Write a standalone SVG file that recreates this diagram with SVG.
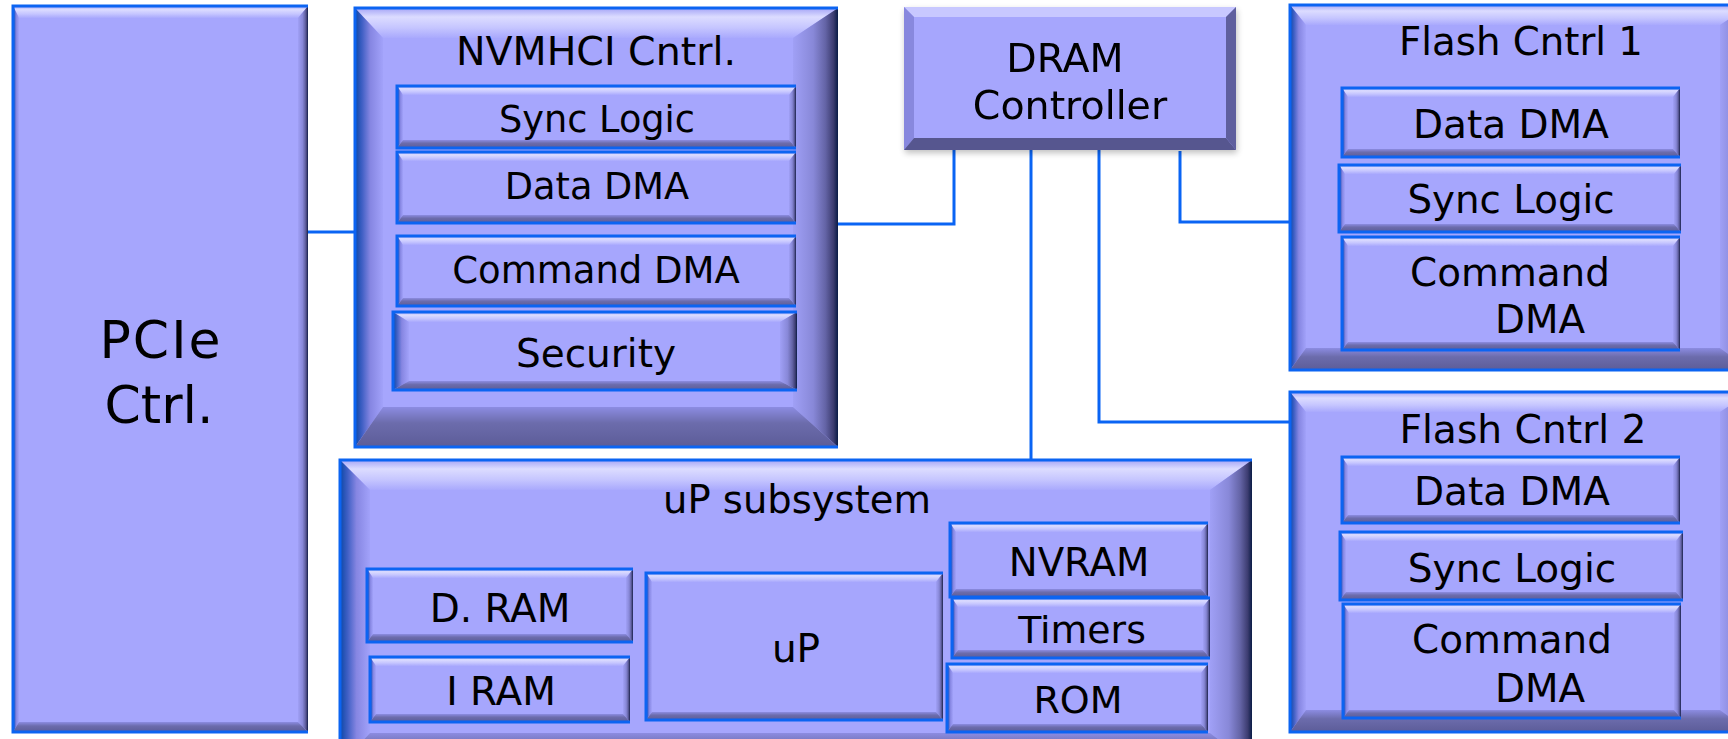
<svg xmlns="http://www.w3.org/2000/svg" width="1728" height="739" viewBox="0 0 1728 739">
<defs>
<linearGradient id="gT" x1="0" y1="0" x2="0" y2="1"><stop offset="0" stop-color="#A4A4F6"/><stop offset="0.3" stop-color="#DCDCFF"/><stop offset="0.65" stop-color="#C6C6FF"/><stop offset="1" stop-color="#A9A9FD"/></linearGradient>
<linearGradient id="gL" x1="0" y1="0" x2="1" y2="0"><stop offset="0" stop-color="#0B47A6"/><stop offset="0.25" stop-color="#3F5FC4"/><stop offset="0.55" stop-color="#8686E2"/><stop offset="1" stop-color="#A2A2FA"/></linearGradient>
<linearGradient id="gR" x1="0" y1="0" x2="1" y2="0"><stop offset="0" stop-color="#A0A0F6"/><stop offset="0.45" stop-color="#8888D8"/><stop offset="0.72" stop-color="#6464A6"/><stop offset="0.9" stop-color="#3C3C70"/><stop offset="1" stop-color="#0A1C46"/></linearGradient>
<linearGradient id="gB" x1="0" y1="0" x2="0" y2="1"><stop offset="0" stop-color="#8C8CE2"/><stop offset="0.4" stop-color="#6C6CAC"/><stop offset="1" stop-color="#5C5C98"/></linearGradient>
<filter id="sh" x="-5%" y="-5%" width="110%" height="115%"><feGaussianBlur in="SourceAlpha" stdDeviation="3"/><feOffset dx="1" dy="3"/><feComponentTransfer><feFuncA type="linear" slope="0.25"/></feComponentTransfer><feMerge><feMergeNode/><feMergeNode in="SourceGraphic"/></feMerge></filter>
</defs>
<style>
.face{fill:#A6A6FD}
.bt{fill:url(#gT)}
.bl{fill:url(#gL)}
.br{fill:url(#gR)}
.bb{fill:url(#gB)}
.edge{fill:none;stroke:#0C64F2;stroke-width:3}
.dt{fill:#C8C8FF}
.dl{fill:#8888DE}
.dr{fill:#5E5E9E}
.db{fill:#56568F}
text{font-family:'DejaVu Sans',Verdana,sans-serif;fill:#000;text-anchor:middle}
.conn{fill:none;stroke:#0A64F4;stroke-width:3}
</style>
<rect width="1728" height="739" fill="#FFFFFF"/>

<g id="connectors">
<line class="conn" x1="308" y1="232" x2="356" y2="232"/>
<polyline class="conn" points="838,224 954,224 954,150"/>
<line class="conn" x1="1031" y1="150" x2="1031" y2="462"/>
<polyline class="conn" points="1099,150 1099,422 1290,422"/>
<polyline class="conn" points="1180,151 1180,222 1290,222"/>
</g>

<g id="pcie">
<rect class="face" x="13" y="6" width="295" height="726"/>
<polygon class="bt" points="13,6 308,6 298,18 19,18"/>
<polygon class="bl" points="13,6 19,18 19,722 13,732"/>
<polygon class="br" points="308,6 308,732 298,722 298,18"/>
<polygon class="bb" points="13,732 19,722 298,722 308,732"/>
<path class="edge" d="M308,6 H13 V732 H308" stroke-width="2"/>
<text x="161" y="358" font-size="52" letter-spacing="2">PCIe</text>
<text x="159" y="423" font-size="52">Ctrl.</text>
</g>

<g id="nvmhci">
<rect class="face" x="355" y="8" width="483" height="439"/>
<polygon class="bt" points="355,8 838,8 793,38 383,38"/>
<polygon class="bl" points="355,8 383,38 383,407 355,447"/>
<polygon class="br" points="838,8 838,447 793,407 793,38"/>
<polygon class="bb" points="355,447 383,407 793,407 838,447"/>
<path class="edge" d="M838,8 H355 V447 H838"/>
<text x="596" y="65" font-size="39.5">NVMHCI Cntrl.</text>
</g>
<g id="nv-sync">
<rect class="face" x="397" y="86" width="399" height="62"/>
<polygon class="bt" points="397,86 796,86 789,95 403,95"/>
<polygon class="bl" points="397,86 403,95 403,140 397,148"/>
<polygon class="br" points="796,86 796,148 789,140 789,95"/>
<polygon class="bb" points="397,148 403,140 789,140 796,148"/>
<path class="edge" d="M796,86 H397 V148 H796" stroke-width="2.5"/>
<text x="597" y="132" font-size="36.7">Sync Logic</text>
</g>
<g id="nv-data">
<rect class="face" x="397" y="152" width="399" height="71"/>
<polygon class="bt" points="397,152 796,152 789,161 403,161"/>
<polygon class="bl" points="397,152 403,161 403,215 397,223"/>
<polygon class="br" points="796,152 796,223 789,215 789,161"/>
<polygon class="bb" points="397,223 403,215 789,215 796,223"/>
<path class="edge" d="M796,152 H397 V223 H796" stroke-width="2.5"/>
<text x="597" y="199" font-size="36.7">Data DMA</text>
</g>
<g id="nv-cmd">
<rect class="face" x="397" y="236" width="399" height="70"/>
<polygon class="bt" points="397,236 796,236 789,245 403,245"/>
<polygon class="bl" points="397,236 403,245 403,298 397,306"/>
<polygon class="br" points="796,236 796,306 789,298 789,245"/>
<polygon class="bb" points="397,306 403,298 789,298 796,306"/>
<path class="edge" d="M796,236 H397 V306 H796" stroke-width="2.5"/>
<text x="596" y="283" font-size="37">Command DMA</text>
</g>
<g id="nv-sec">
<rect class="face" x="393" y="312" width="404" height="78"/>
<polygon class="bt" points="393,312 797,312 780,322 409,322"/>
<polygon class="bl" points="393,312 409,322 409,381 393,390"/>
<polygon class="br" points="797,312 797,390 780,381 780,322"/>
<polygon class="bb" points="393,390 409,381 780,381 797,390"/>
<path class="edge" d="M797,312 H393 V390 H797" stroke-width="2.5"/>
<text x="596" y="367" font-size="39">Security</text>
</g>

<g id="dram" filter="url(#sh)">
<rect class="face" x="904" y="7" width="332" height="143"/>
<polygon class="dt" points="904,7 1236,7 1226,17 914,17"/>
<polygon class="dl" points="904,7 914,17 914,138 904,150"/>
<polygon class="dr" points="1236,7 1236,150 1226,138 1226,17"/>
<polygon class="db" points="904,150 914,138 1226,138 1236,150"/>
<text x="1065" y="72" font-size="39.5">DRAM</text>
<text x="1070" y="119" font-size="39.5">Controller</text>
</g>

<g id="flash1">
<rect class="face" x="1290" y="5" width="460" height="365"/>
<polygon class="bt" points="1290,5 1750,5 1720,25 1306,25"/>
<polygon class="bl" points="1290,5 1306,25 1306,348 1290,370"/>
<polygon class="br" points="1750,5 1750,370 1720,348 1720,25"/>
<polygon class="bb" points="1290,370 1306,348 1720,348 1750,370"/>
<path class="edge" d="M1750,5 H1290 V370 H1750"/>
<text x="1521" y="55" font-size="38.7">Flash Cntrl 1</text>
</g>
<g id="f1-data">
<rect class="face" x="1342" y="88" width="338" height="69"/>
<polygon class="bt" points="1342,88 1680,88 1673,97 1348,97"/>
<polygon class="bl" points="1342,88 1348,97 1348,149 1342,157"/>
<polygon class="br" points="1680,88 1680,157 1673,149 1673,97"/>
<polygon class="bb" points="1342,157 1348,149 1673,149 1680,157"/>
<path class="edge" d="M1680,88 H1342 V157 H1680" stroke-width="2.5"/>
<text x="1511" y="138" font-size="39">Data DMA</text>
</g>
<g id="f1-sync">
<rect class="face" x="1339" y="165" width="342" height="67"/>
<polygon class="bt" points="1339,165 1681,165 1674,174 1345,174"/>
<polygon class="bl" points="1339,165 1345,174 1345,224 1339,232"/>
<polygon class="br" points="1681,165 1681,232 1674,224 1674,174"/>
<polygon class="bb" points="1339,232 1345,224 1674,224 1681,232"/>
<path class="edge" d="M1681,165 H1339 V232 H1681" stroke-width="2.5"/>
<text x="1511" y="213" font-size="38.8">Sync Logic</text>
</g>
<g id="f1-cmd">
<rect class="face" x="1342" y="237" width="338" height="113"/>
<polygon class="bt" points="1342,237 1680,237 1673,246 1348,246"/>
<polygon class="bl" points="1342,237 1348,246 1348,342 1342,350"/>
<polygon class="br" points="1680,237 1680,350 1673,342 1673,246"/>
<polygon class="bb" points="1342,350 1348,342 1673,342 1680,350"/>
<path class="edge" d="M1680,237 H1342 V350 H1680" stroke-width="2.5"/>
<text x="1510" y="286" font-size="38.9">Command</text>
<text x="1495" y="333" font-size="38.9" style="text-anchor:start">DMA</text>
</g>

<g id="flash2">
<rect class="face" x="1290" y="392" width="460" height="340"/>
<polygon class="bt" points="1290,392 1750,392 1720,412 1306,412"/>
<polygon class="bl" points="1290,392 1306,412 1306,710 1290,732"/>
<polygon class="br" points="1750,392 1750,732 1720,710 1720,412"/>
<polygon class="bb" points="1290,732 1306,710 1720,710 1750,732"/>
<path class="edge" d="M1750,392 H1290 V732 H1750"/>
<text x="1523" y="443" font-size="39.2">Flash Cntrl 2</text>
</g>
<g id="f2-data">
<rect class="face" x="1342" y="457" width="338" height="66"/>
<polygon class="bt" points="1342,457 1680,457 1673,466 1348,466"/>
<polygon class="bl" points="1342,457 1348,466 1348,515 1342,523"/>
<polygon class="br" points="1680,457 1680,523 1673,515 1673,466"/>
<polygon class="bb" points="1342,523 1348,515 1673,515 1680,523"/>
<path class="edge" d="M1680,457 H1342 V523 H1680" stroke-width="2.5"/>
<text x="1512" y="505" font-size="39">Data DMA</text>
</g>
<g id="f2-sync">
<rect class="face" x="1340" y="532" width="343" height="68"/>
<polygon class="bt" points="1340,532 1683,532 1676,541 1346,541"/>
<polygon class="bl" points="1340,532 1346,541 1346,592 1340,600"/>
<polygon class="br" points="1683,532 1683,600 1676,592 1676,541"/>
<polygon class="bb" points="1340,600 1346,592 1676,592 1683,600"/>
<path class="edge" d="M1683,532 H1340 V600 H1683" stroke-width="2.5"/>
<text x="1512" y="582" font-size="39">Sync Logic</text>
</g>
<g id="f2-cmd">
<rect class="face" x="1343" y="604" width="338" height="114"/>
<polygon class="bt" points="1343,604 1681,604 1674,613 1349,613"/>
<polygon class="bl" points="1343,604 1349,613 1349,710 1343,718"/>
<polygon class="br" points="1681,604 1681,718 1674,710 1674,613"/>
<polygon class="bb" points="1343,718 1349,710 1674,710 1681,718"/>
<path class="edge" d="M1681,604 H1343 V718 H1681" stroke-width="2.5"/>
<text x="1512" y="653" font-size="38.9">Command</text>
<text x="1495" y="702" font-size="38.9" style="text-anchor:start">DMA</text>
</g>

<g id="up-subsystem">
<rect class="face" x="340" y="460" width="912" height="305"/>
<polygon class="bt" points="340,460 1252,460 1210,490 370,490"/>
<polygon class="bl" points="340,460 370,490 370,733 340,765"/>
<polygon class="br" points="1252,460 1252,765 1210,733 1210,490"/>
<polygon class="bb" points="340,765 370,733 1210,733 1252,765"/>
<path class="edge" d="M1252,460 H340 V765"/>
<text x="797" y="513" font-size="38.5">uP subsystem</text>
</g>
<g id="dram-d">
<rect class="face" x="367" y="569" width="266" height="73"/>
<polygon class="bt" points="367,569 633,569 626,578 373,578"/>
<polygon class="bl" points="367,569 373,578 373,634 367,642"/>
<polygon class="br" points="633,569 633,642 626,634 626,578"/>
<polygon class="bb" points="367,642 373,634 626,634 633,642"/>
<path class="edge" d="M633,569 H367 V642 H633" stroke-width="2.5"/>
<text x="500" y="622" font-size="39">D. RAM</text>
</g>
<g id="iram">
<rect class="face" x="370" y="657" width="260" height="65"/>
<polygon class="bt" points="370,657 630,657 623,666 376,666"/>
<polygon class="bl" points="370,657 376,666 376,714 370,722"/>
<polygon class="br" points="630,657 630,722 623,714 623,666"/>
<polygon class="bb" points="370,722 376,714 623,714 630,722"/>
<path class="edge" d="M630,657 H370 V722 H630" stroke-width="2.5"/>
<text x="501" y="705" font-size="39">I RAM</text>
</g>
<g id="up">
<rect class="face" x="646" y="573" width="297" height="147"/>
<polygon class="bt" points="646,573 943,573 936,582 652,582"/>
<polygon class="bl" points="646,573 652,582 652,712 646,720"/>
<polygon class="br" points="943,573 943,720 936,712 936,582"/>
<polygon class="bb" points="646,720 652,712 936,712 943,720"/>
<path class="edge" d="M943,573 H646 V720 H943" stroke-width="2.5"/>
<text x="796" y="662" font-size="39">uP</text>
</g>
<g id="nvram">
<rect class="face" x="950" y="523" width="258" height="74"/>
<polygon class="bt" points="950,523 1208,523 1201,532 956,532"/>
<polygon class="bl" points="950,523 956,532 956,589 950,597"/>
<polygon class="br" points="1208,523 1208,597 1201,589 1201,532"/>
<polygon class="bb" points="950,597 956,589 1201,589 1208,597"/>
<path class="edge" d="M1208,523 H950 V597 H1208" stroke-width="2.5"/>
<text x="1079" y="576" font-size="38.7">NVRAM</text>
</g>
<g id="timers">
<rect class="face" x="952" y="598" width="258" height="60"/>
<polygon class="bt" points="952,598 1210,598 1203,607 958,607"/>
<polygon class="bl" points="952,598 958,607 958,650 952,658"/>
<polygon class="br" points="1210,598 1210,658 1203,650 1203,607"/>
<polygon class="bb" points="952,658 958,650 1203,650 1210,658"/>
<path class="edge" d="M1210,598 H952 V658 H1210" stroke-width="2.5"/>
<text x="1082" y="643" font-size="37.8">Timers</text>
</g>
<g id="rom">
<rect class="face" x="947" y="664" width="261" height="68"/>
<polygon class="bt" points="947,664 1208,664 1201,673 953,673"/>
<polygon class="bl" points="947,664 953,673 953,724 947,732"/>
<polygon class="br" points="1208,664 1208,732 1201,724 1201,673"/>
<polygon class="bb" points="947,732 953,724 1201,724 1208,732"/>
<path class="edge" d="M1208,664 H947 V732 H1208" stroke-width="2.5"/>
<text x="1078" y="713" font-size="38">ROM</text>
</g>
</svg>
